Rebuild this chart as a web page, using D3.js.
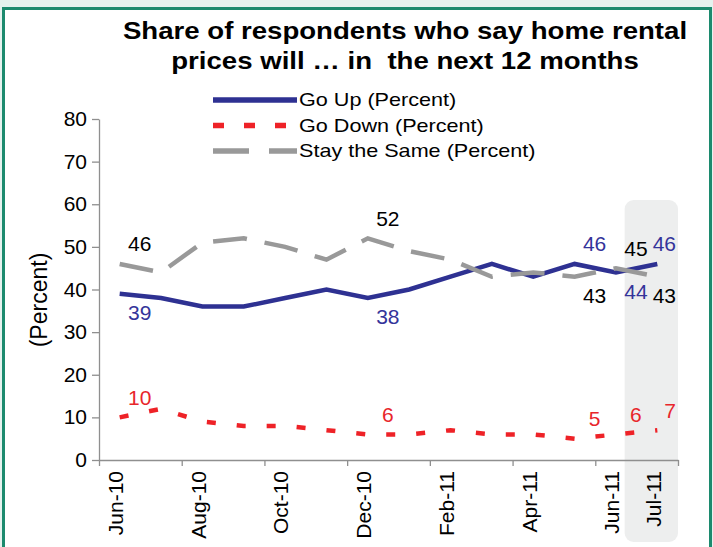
<!DOCTYPE html>
<html>
<head>
<meta charset="utf-8">
<script src="https://cdn.jsdelivr.net/npm/d3@7"></script>
<style>
  body { margin: 0; }
  text { font-family: "Liberation Sans", Arial, sans-serif; white-space: pre; }
</style>
</head>
<body>
<div id="chart"></div>
<script>
// monthly survey, Jun-10 .. Jul-11
const months = ['Jun-10', 'Jul-10', 'Aug-10', 'Sep-10', 'Oct-10', 'Nov-10', 'Dec-10',
  'Jan-11', 'Feb-11', 'Mar-11', 'Apr-11', 'May-11', 'Jun-11', 'Jul-11'];
const tickLabels = ['Jun-10', 'Aug-10', 'Oct-10', 'Dec-10', 'Feb-11', 'Apr-11', 'Jun-11', 'Jul-11'];
const goUp = [39, 38, 36, 36, 38, 40, 38, 40, 43, 46, 43, 46, 44, 46];
const goDown = [10, 12, 9, 8, 8, 7, 6, 6, 7, 6, 6, 5, 6, 7];
const staySame = [46, 44, 51, 52, 50, 47, 52, 49, 47, 43, 44, 43, 45, 43];
const yTicks = [0, 10, 20, 30, 40, 50, 60, 70, 80];
const titleLines = ['Share of respondents who say home rental', 'prices will \u2026 in  the next 12 months'];
const seriesNames = ['Go Up (Percent)', 'Go Down (Percent)', 'Stay the Same (Percent)'];
// which points carry a value label
const pointLabels = [
  {s: 2, i: 0, pos: 'above'}, {s: 0, i: 0, pos: 'below'},
  {s: 2, i: 6, pos: 'above'}, {s: 0, i: 6, pos: 'below'},
  {s: 0, i: 11, pos: 'above'}, {s: 2, i: 11, pos: 'below'},
  {s: 2, i: 12, pos: 'above'}, {s: 0, i: 12, pos: 'below'},
  {s: 0, i: 13, pos: 'above'}, {s: 2, i: 13, pos: 'below'},
  {s: 1, i: 0, pos: 'above'}, {s: 1, i: 6, pos: 'above'}, {s: 1, i: 11, pos: 'above'},
  {s: 1, i: 12, pos: 'above'}, {s: 1, i: 13, pos: 'above'}
];
const highlightMonth = 'Jul-11';

const W = 713, H = 547;
const series = [
  {values: goUp, color: '#2e3192', label: '#34349a', dash: null, legendDash: null},
  {values: goDown, color: '#ee2227', label: '#e8262b', dash: '9,21', legendDash: '11,20'},
  {values: staySame, color: '#999999', label: '#000', dash: '34,18', legendDash: '36,20'}
];

const svg = d3.select('#chart').append('svg').attr('width', W).attr('height', H);

svg.append('rect').attr('width', W).attr('height', H).attr('fill', '#e5f2ee');
svg.append('rect').attr('x', 3.5).attr('y', 8.5).attr('width', 707).attr('height', 545)
  .attr('fill', '#fff').attr('stroke', '#1c8a6e').attr('stroke-width', 3);

// text helper, sx = horizontal stretch of the glyphs
function txt(parent, x, y, str, o = {}) {
  const sx = o.sx || 1;
  const g = parent.append('g')
    .attr('transform', `translate(${x},${y}) scale(${sx},1)` + (o.rotate ? ` rotate(${o.rotate})` : ''));
  const t = g.append('text').text(str)
    .attr('text-anchor', o.anchor || 'start')
    .attr('dy', o.dy || '0.35em')
    .style('font-size', (o.size || 17) + 'px')
    .style('font-weight', o.bold ? 'bold' : 'normal')
    .attr('fill', o.fill || '#000');
  return t;
}

const x = d3.scaleBand().domain(months).range([99, 678]);
const xi = d3.scaleLinear().domain([0, months.length]).range([99, 678]);
const y = d3.scaleLinear().domain([0, 80]).range([460, 119]);
const cx = m => x(m) + x.bandwidth() / 2;

// highlight band behind last month
svg.append('rect')
  .attr('x', x(highlightMonth) - 12).attr('y', 200)
  .attr('width', x.bandwidth() + 12).attr('height', 342)
  .attr('rx', 9).attr('fill', '#edeeee');

// title
titleLines.forEach((l, i) => txt(svg, 405, 31 + i * 30, l, {anchor: 'middle', size: 23, bold: true, sx: 1.2}));

// axes
const yAxis = svg.append('g').attr('transform', 'translate(99,0)')
  .call(d3.axisLeft(y).tickValues(yTicks).tickSize(7).tickSizeOuter(0).tickFormat(''));
const xAxis = svg.append('g').attr('transform', 'translate(0,460)')
  .call(d3.axisBottom(xi).tickValues(d3.range(0, months.length + 1, 2)).tickSize(6).tickSizeOuter(0).tickFormat(''));
[yAxis, xAxis].forEach(a => {
  a.selectAll('path, line').attr('stroke', '#8f8f8f').attr('stroke-width', 1.3);
});
yTicks.forEach(v => txt(svg, 87, y(v), String(v), {anchor: 'end', size: 20, sx: 1.05}));
tickLabels.forEach(m => txt(svg, cx(m) - 4, 471, m, {anchor: 'end', size: 21, rotate: -90}));
txt(svg, 39, 300, '(Percent)', {anchor: 'middle', size: 23, rotate: -90});

// lines
const line = d3.line().x((d, i) => cx(months[i])).y(d => y(d));
series.forEach(s => {
  svg.append('path').datum(s.values)
    .attr('d', line).attr('fill', 'none')
    .attr('stroke', s.color).attr('stroke-width', 4.5)
    .attr('stroke-dasharray', s.dash);
});

// value labels
pointLabels.forEach(p => {
  const s = series[p.s];
  const v = s.values[p.i];
  const px = cx(months[p.i]) + 20;
  const py = y(v) + (p.pos === 'above' ? -20 : 19);
  const t = txt(svg, px, py, String(v), {anchor: 'middle', size: 21, fill: s.label});
  const w = t.node().getComputedTextLength();
  if (px + w / 2 > 676) {
    t.node().parentNode.setAttribute('transform', `translate(${676 - w / 2},${py})`);
  }
});

// legend
const legendY = d3.scalePoint().domain(seriesNames).range([100, 151]);
seriesNames.forEach((n, i) => {
  const s = series[i];
  svg.append('line')
    .attr('x1', 213).attr('x2', 297).attr('y1', legendY(n)).attr('y2', legendY(n))
    .attr('stroke', s.color).attr('stroke-width', 5.5)
    .attr('stroke-dasharray', s.legendDash);
  txt(svg, 299, legendY(n), n, {size: 18, sx: 1.2});
});
</script>
</body>
</html>
